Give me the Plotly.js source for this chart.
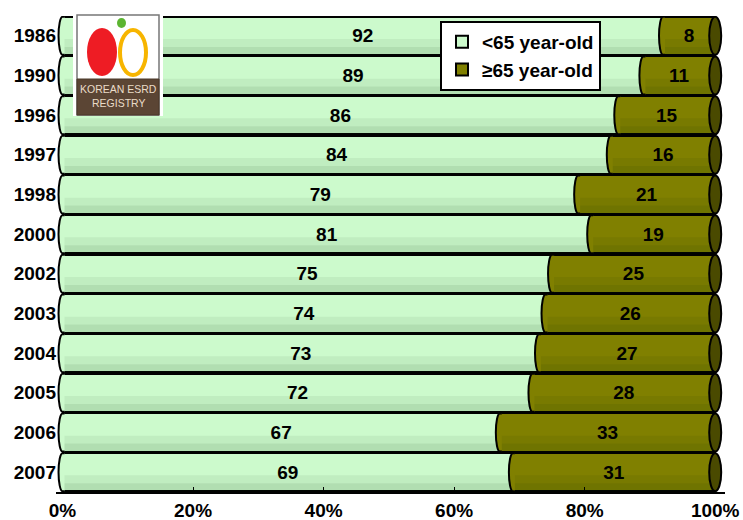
<!DOCTYPE html>
<html>
<head>
<meta charset="utf-8">
<script src="https://cdn.plot.ly/plotly-3.0.1.min.js"></script>
<style>html,body{margin:0;padding:0;background:#fff;}#chart{width:743px;height:520px;}</style>
</head>
<body>
<div id="chart"></div>
<script>
// ---- data ----
var years = ['1986','1990','1996','1997','1998','2000','2002','2003','2004','2005','2006','2007'];
var under65 = [92, 89, 86, 84, 79, 81, 75, 74, 73, 72, 67, 69];
var over65 = [8, 11, 15, 16, 21, 19, 25, 26, 27, 28, 33, 31];
var seriesNames = ['&lt;65 year-old', '≥65 year-old'];
var xTickVals = [0, 20, 40, 60, 80, 100];
var xTickText = ['0%', '20%', '40%', '60%', '80%', '100%'];

// ---- styles ----
var FONT = 'Arial, "Liberation Sans", Helvetica, sans-serif';
var GREEN = '#ccfacc';
var OLIVE = '#808000';
var OLIVE_DARK = '#4a4a00';
var HALF = 0.48; // half bar thickness in category units (bargap 0.04)

var traces = [
  {
    type: 'bar', orientation: 'h', name: seriesNames[0],
    y: years, x: under65, text: under65, texttemplate: '%{text}',
    textposition: 'inside', insidetextanchor: 'middle',
    textfont: {family: FONT, size: 19, color: '#000', weight: 'bold'},
    marker: {color: GREEN, line: {color: '#000', width: 2}},
    hoverinfo: 'skip'
  },
  {
    type: 'bar', orientation: 'h', name: seriesNames[1],
    y: years, x: over65, text: over65, texttemplate: '%{text}',
    textposition: 'inside', insidetextanchor: 'middle',
    textfont: {family: FONT, size: 19, color: '#000', weight: 'bold'},
    marker: {color: OLIVE, line: {color: '#000', width: 2}},
    hoverinfo: 'skip'
  }
];

// cylinder caps built from the data (boundary positions are normalised by barnorm)
function halfEllipsePath(i, dx) {
  var t = i - HALF, b = i + HALF, k = 0.5523;
  return 'M 2,' + t +
    ' L 0,' + t +
    ' C ' + (-k * dx) + ',' + t + ' ' + (-dx) + ',' + (i - k * HALF) + ' ' + (-dx) + ',' + i +
    ' C ' + (-dx) + ',' + (i + k * HALF) + ' ' + (-k * dx) + ',' + b + ' 0,' + b +
    ' L 2,' + b;
}
var shapes = [];
years.forEach(function (yr, i) {
  // soft shading on the lower part of each cylinder
  shapes.push({type: 'rect', layer: 'above', xref: 'x', yref: 'y', x0: 0, x1: 100,
    y0: i + 0.08, y1: i + 0.28, fillcolor: 'rgba(0,40,0,0.06)', line: {width: 0}});
  shapes.push({type: 'rect', layer: 'above', xref: 'x', yref: 'y', x0: 0, x1: 100,
    y0: i + 0.28, y1: i + HALF, fillcolor: 'rgba(0,40,0,0.13)', line: {width: 0}});
});
years.forEach(function (yr, i) {
  var total = under65[i] + over65[i];
  var boundary = under65[i] / total * 100;
  // left end of green cylinder
  shapes.push({type: 'path', layer: 'above', xref: 'x', yref: 'y', xsizemode: 'pixel', xanchor: 0,
    path: halfEllipsePath(i, 4), fillcolor: GREEN, line: {color: '#000', width: 2}});
  // boundary between the two segments
  shapes.push({type: 'path', layer: 'above', xref: 'x', yref: 'y', xsizemode: 'pixel', xanchor: boundary,
    path: halfEllipsePath(i, 4), fillcolor: OLIVE, line: {color: '#000', width: 2}});
  // right end face
  shapes.push({type: 'circle', layer: 'above', xref: 'x', yref: 'y', xsizemode: 'pixel', xanchor: 100,
    x0: -6, x1: 6, y0: i - HALF, y1: i + HALF, fillcolor: OLIVE_DARK, line: {color: '#000', width: 2}});
});

// logo (decorative, paper coordinates)
function px(v) { return (v - 56) / 669; }
function py(v) { return (492 - v) / 476; }
shapes.push({type: 'rect', layer: 'above', xref: 'paper', yref: 'paper', x0: px(73), x1: px(163), y0: py(116), y1: py(12), fillcolor: '#fff', line: {width: 0}});
shapes.push({type: 'rect', layer: 'above', xref: 'paper', yref: 'paper', x0: px(77), x1: px(159), y0: py(115), y1: py(15), fillcolor: 'rgba(0,0,0,0)', line: {color: '#777', width: 1.5}});
shapes.push({type: 'rect', layer: 'above', xref: 'paper', yref: 'paper', x0: px(77), x1: px(159), y0: py(115), y1: py(79), fillcolor: '#5b4534', line: {color: '#4a3828', width: 1}});
shapes.push({type: 'circle', layer: 'above', xref: 'paper', yref: 'paper', x0: px(87), x1: px(117), y0: py(76), y1: py(28), fillcolor: '#ee1c24', line: {width: 0}});
shapes.push({type: 'circle', layer: 'above', xref: 'paper', yref: 'paper', x0: px(120), x1: px(146), y0: py(75), y1: py(30), fillcolor: 'rgba(0,0,0,0)', line: {color: '#f7b500', width: 4}});
shapes.push({type: 'circle', layer: 'above', xref: 'paper', yref: 'paper', x0: px(117), x1: px(126), y0: py(28), y1: py(18), fillcolor: '#5cb531', line: {width: 0}});

var annotations = [
  {xref: 'paper', yref: 'paper', x: px(118), y: py(89), xanchor: 'center', yanchor: 'middle',
   text: 'KOREAN ESRD', showarrow: false, font: {family: FONT, size: 10.5, color: '#eadcc8'}},
  {xref: 'paper', yref: 'paper', x: px(118), y: py(103), xanchor: 'center', yanchor: 'middle',
   text: 'REGISTRY', showarrow: false, font: {family: FONT, size: 10.5, color: '#eadcc8'}}
];

var layout = {
  width: 743, height: 520,
  margin: {l: 56, r: 18, t: 16, b: 28, pad: 0},
  paper_bgcolor: '#fff', plot_bgcolor: '#fff',
  barmode: 'stack', barnorm: 'percent', bargap: 0.04,
  showlegend: true,
  legend: {
    x: (440 - 56) / 669, y: (492 - 21) / 476, xanchor: 'left', yanchor: 'top',
    bgcolor: '#fff', bordercolor: '#000', borderwidth: 2,
    font: {family: FONT, size: 19, color: '#000', weight: 'bold'},
    traceorder: 'grouped', tracegroupgap: 4, itemwidth: 30
  },
  xaxis: {
    range: [-1, 101.5], tickmode: 'array', tickvals: xTickVals, ticktext: xTickText,
    showgrid: true, gridcolor: '#bbbbbb', griddash: 'dot', gridwidth: 1,
    zeroline: false, showline: true, linecolor: '#000', linewidth: 2,
    ticks: 'inside', ticklen: 5, tickcolor: '#000',
    tickfont: {family: FONT, size: 19, color: '#000', weight: 'bold'}
  },
  yaxis: {
    type: 'category', categoryorder: 'array', categoryarray: years,
    range: [11.5, -0.5], showgrid: false, zeroline: false, showline: false, ticks: '',
    ticklabelstandoff: -1,
    tickfont: {family: FONT, size: 19, color: '#000', weight: 'bold'}
  },
  shapes: shapes,
  annotations: annotations
};

Plotly.newPlot('chart', traces, layout, {displayModeBar: false, staticPlot: true});
</script>
</body>
</html>
